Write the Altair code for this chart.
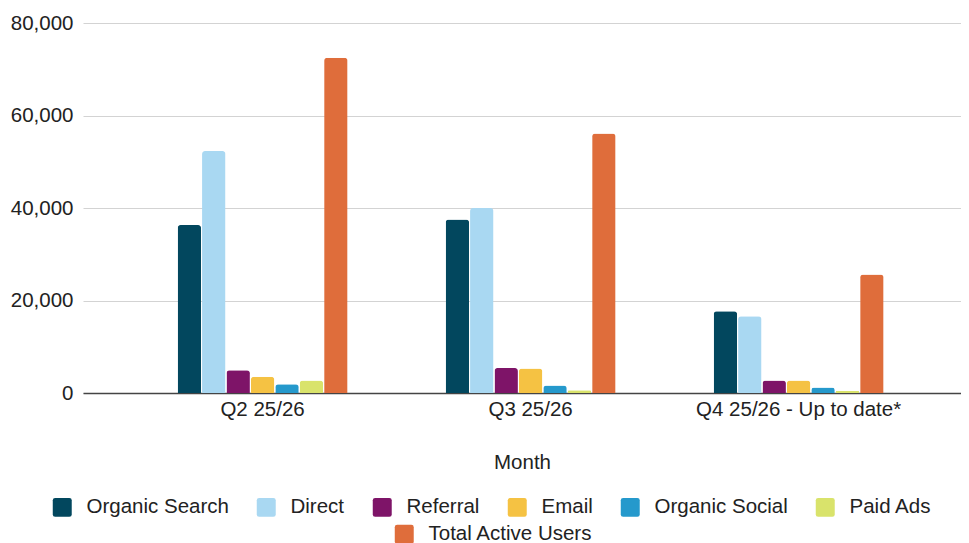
import altair as alt
import pandas as pd

quarters = ["Q2 25/26", "Q3 25/26", "Q4 25/26 - Up to date*"]
series = ["Organic Search", "Direct", "Referral", "Email",
          "Organic Social", "Paid Ads", "Total Active Users"]
colors = ["#02475e", "#a9d8f2", "#7e1468", "#f5c243",
          "#2599cc", "#d9e36b", "#df6d3b"]

organic_search = [36300, 37500, 17700]
direct = [52300, 40000, 16600]
referral = [4900, 5400, 2700]
email = [3500, 5300, 2700]
organic_social = [1900, 1600, 1200]
paid_ads = [2700, 600, 500]
total_active = [72500, 56100, 25600]

values = [organic_search, direct, referral, email,
          organic_social, paid_ads, total_active]

rows = []
for s, vals in zip(series, values):
    for q, v in zip(quarters, vals):
        rows.append({"Quarter": q, "Series": s, "Value": v})
df = pd.DataFrame(rows)

FONT = "Liberation Sans"
FS = 20.5

rounded = ("M -0.75 -1 L 0.75 -1 Q 1 -1 1 -0.75 L 1 0.75 Q 1 1 0.75 1 "
           "L -0.75 1 Q -1 1 -1 0.75 L -1 -0.75 Q -1 -1 -0.75 -1 Z")

legend_common = dict(
    orient="none", direction="horizontal", title=None,
    symbolType=rounded, symbolSize=360, symbolStrokeWidth=0,
    labelFontSize=FS, labelFont=FONT, labelColor="#222222",
    labelOffset=14, columnPadding=27, labelLimit=400,
)

base = alt.Chart(df).encode(
    x=alt.X("Quarter:N", sort=quarters,
            scale=alt.Scale(domain=quarters, paddingInner=0.366,
                            paddingOuter=0.321, align=0.55),
            axis=alt.Axis(title="Month", labelAngle=0, ticks=False, grid=False,
                          domainColor="#444444", domainWidth=1.5,
                          labelPadding=6, titlePadding=33, labelLimit=400)),
    xOffset=alt.XOffset("Series:N",
                        scale=alt.Scale(domain=series, paddingInner=0.04)),
    y=alt.Y("Value:Q", scale=alt.Scale(domain=[0, 80000]),
            axis=alt.Axis(values=[0, 20000, 40000, 60000, 80000], format=",d",
                          title=None, domain=False, ticks=False,
                          labelPadding=10, gridColor="#d3d3d3")),
)

bars_a = base.transform_filter(
    alt.FieldOneOfPredicate(field="Series", oneOf=series[:6])
).mark_bar(cornerRadiusTopLeft=3, cornerRadiusTopRight=3).encode(
    color=alt.Color("Series:N",
                    scale=alt.Scale(domain=series[:6], range=colors[:6]),
                    legend=alt.Legend(legendX=-31, legendY=474, **legend_common))
)

bars_b = base.transform_filter(
    alt.FieldOneOfPredicate(field="Series", oneOf=series[6:])
).mark_bar(cornerRadiusTopLeft=3, cornerRadiusTopRight=3).encode(
    color=alt.Color("Series:N",
                    scale=alt.Scale(domain=series[6:], range=colors[6:]),
                    legend=alt.Legend(legendX=311, legendY=501, **legend_common))
)

chart = alt.layer(bars_a, bars_b).resolve_scale(color="independent").properties(
    width=878, height=370,
    padding={"left": 75, "top": 15, "right": 0, "bottom": 150},
    autosize=alt.AutoSizeParams(type="none"),
).configure(
    font=FONT,
).configure_axis(
    labelFont=FONT, titleFont=FONT,
    labelFontSize=FS, titleFontSize=FS, titleFontWeight="normal",
    labelColor="#222222", titleColor="#222222",
).configure_view(stroke=None)

chart.save("out.html", embed_options={"renderer": "svg", "actions": False})
